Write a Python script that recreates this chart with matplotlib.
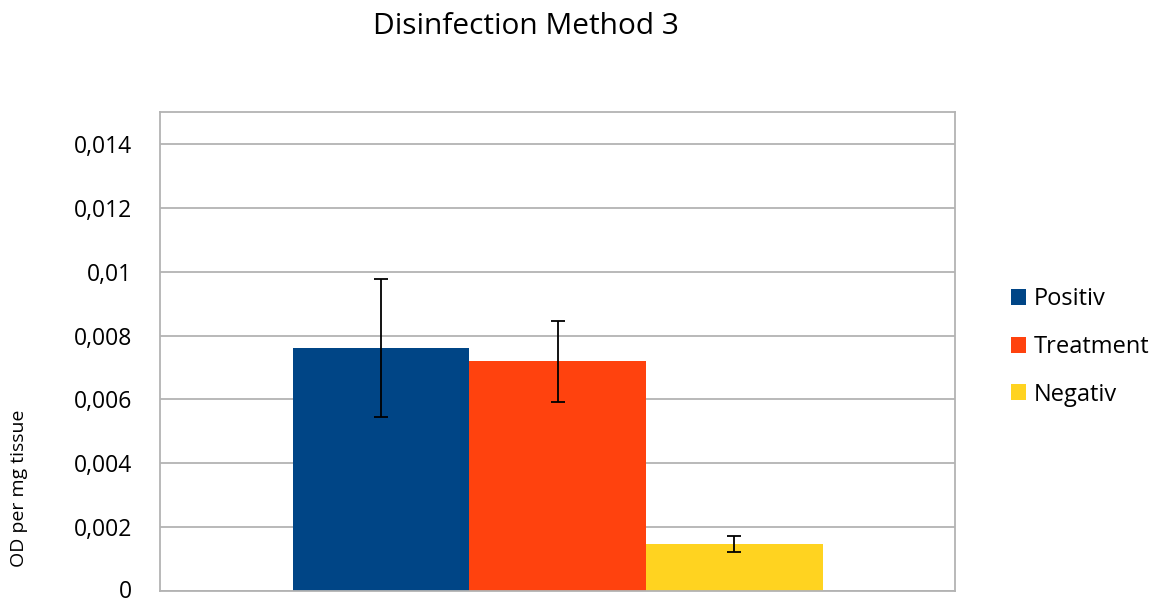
import matplotlib
matplotlib.use("Agg")
import matplotlib.pyplot as plt
from matplotlib.ticker import FuncFormatter
from matplotlib.patches import Patch
from matplotlib.transforms import ScaledTranslation

plt.rcParams['font.family'] = ['Open Sans', 'DejaVu Sans']

series = ["Positiv", "Treatment", "Negativ"]
values = [0.00761, 0.00720, 0.00147]
errors = [0.00216, 0.00127, 0.00024]
colors = ["#004586", "#FF420E", "#FFD320"]
yticks = [0, 0.002, 0.004, 0.006, 0.008, 0.01, 0.012, 0.014]
title = "Disinfection Method 3"
ylabel = "OD per mg tissue"

fig = plt.figure(figsize=(11.55, 6), dpi=100)
ax = fig.add_axes([160/1155, 9/600, 795/1155, 479/600])

width = 1/3
n = len(series)
for i, (s, v, e, c) in enumerate(zip(series, values, errors, colors)):
    x = (i - (n - 1) / 2) * width
    ax.bar(x, v, width=width, color=c, label=s, zorder=2)
    ax.errorbar(x, v, yerr=e, fmt='none', ecolor='black', elinewidth=1.3,
                capsize=5, capthick=1.3, zorder=3)

ax.set_xlim(-0.75, 0.75)
ax.set_ylim(0, 0.015)
ax.set_yticks(yticks)
ax.yaxis.set_major_formatter(FuncFormatter(lambda v, p: ('%g' % round(v, 6)).replace('.', ',')))
ax.set_xticks([])
ax.tick_params(axis='y', length=0, labelsize=16.5, pad=20)
ticks = ax.yaxis.get_major_ticks()
for t in ticks:
    t.label1.set_verticalalignment('center_baseline')
# nudge the bottom "0" label up slightly so it stays inside the canvas
ticks[0].label1.set_transform(ticks[0].label1.get_transform() +
                              ScaledTranslation(0, 2/100, fig.dpi_scale_trans))
ax.grid(axis='y', color='#b3b3b3', linewidth=1.3, zorder=0)
for sp in ax.spines.values():
    sp.set_color('#b3b3b3')
    sp.set_linewidth(1.3)

fig.text(526/1155, 1 - 26/600, title, ha='center', va='center', fontsize=21.5)
fig.text(19/1155, 1 - 488/600, ylabel, ha='center', va='center', rotation=90, fontsize=14)

handles = [Patch(facecolor=c, label=s) for s, c in zip(series, colors)]
fig.legend(handles=handles, loc='center left', bbox_to_anchor=(1011/1155, 1 - 347/600),
           frameon=False, fontsize=17, handlelength=0.65, handleheight=0.65,
           handletextpad=0.3, labelspacing=1.0, borderaxespad=0, borderpad=0)

fig.savefig("out.png", dpi=100)
